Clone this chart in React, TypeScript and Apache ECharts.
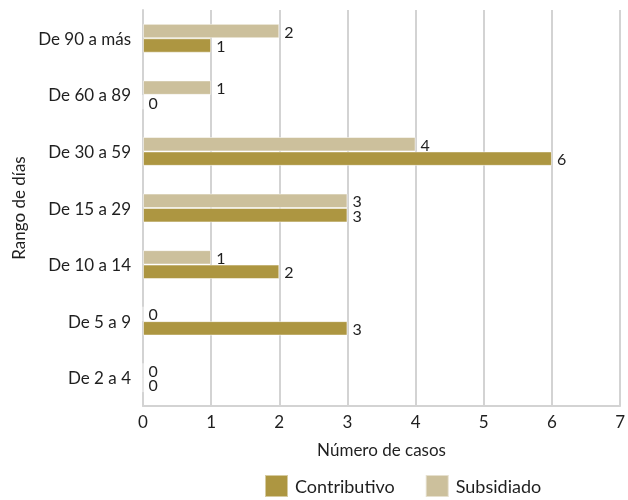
import React, { useEffect, useRef } from "react";
import * as echarts from "echarts";

// Day ranges, bottom to top on the category axis
const categories = [
  "De 2 a 4",
  "De 5 a 9",
  "De 10 a 14",
  "De 15 a 29",
  "De 30 a 59",
  "De 60 a 89",
  "De 90 a más",
];

const contributivo = [0, 3, 2, 3, 6, 0, 1];
const subsidiado = [0, 0, 1, 3, 4, 1, 2];

const xTicks = { min: 0, max: 7, interval: 1 };

const FONT = "Lato";
const TEXT = "#1f1f1f";
const GRID = "#d3d3d3";

export default function App() {
  const ref = useRef<HTMLDivElement>(null);

  useEffect(() => {
    if (!ref.current) return;
    const chart = echarts.init(ref.current, undefined, { renderer: "svg" });
    const label = {
      show: true,
      position: "right" as const,
      distance: 5,
      color: TEXT,
      fontFamily: FONT,
      fontSize: 16,
    };
    chart.setOption({
      animation: false,
      textStyle: { fontFamily: FONT },
      grid: { left: 143, right: 5, top: 10, bottom: 94 },
      legend: {
        bottom: 2,
        left: 264,
        padding: 0,
        itemWidth: 23,
        itemHeight: 22,
        itemGap: 30,
        icon: "rect",
        textStyle: { fontFamily: FONT, fontSize: 18, color: TEXT, padding: [0, 0, 0, 2] },
        data: ["Contributivo", "Subsidiado"],
      },
      xAxis: {
        type: "value",
        min: xTicks.min,
        max: xTicks.max,
        interval: xTicks.interval,
        name: "Número de casos",
        nameLocation: "middle",
        nameGap: 35,
        nameTextStyle: { fontFamily: FONT, fontSize: 17, color: TEXT },
        axisLine: { show: true, lineStyle: { color: GRID, width: 2 } },
        axisTick: { show: false },
        axisLabel: { color: TEXT, fontFamily: FONT, fontSize: 17, margin: 7 },
        splitLine: { show: true, lineStyle: { color: GRID, width: 2 } },
      },
      yAxis: {
        type: "category",
        data: categories,
        name: "Rango de días",
        nameLocation: "middle",
        nameGap: 114,
        nameRotate: 90,
        nameTextStyle: { fontFamily: FONT, fontSize: 17, color: TEXT },
        axisLine: { show: true, lineStyle: { color: GRID, width: 2 } },
        axisTick: { show: false },
        axisLabel: { color: TEXT, fontFamily: FONT, fontSize: 17, margin: 12 },
      },
      // Subsidiado is listed first so its bar sits above Contributivo in each band
      series: [
        {
          name: "Subsidiado",
          type: "bar",
          data: subsidiado,
          barGap: "0%",
          barCategoryGap: "49%",
          itemStyle: { color: "#ccc09c", borderColor: "rgba(255,255,255,0.5)", borderWidth: 1 },
          label,
        },
        {
          name: "Contributivo",
          type: "bar",
          data: contributivo,
          barGap: "0%",
          barCategoryGap: "49%",
          itemStyle: { color: "#ad9641", borderColor: "rgba(255,255,255,0.5)", borderWidth: 1 },
          label,
        },
      ],
    });
    return () => chart.dispose();
  }, []);

  return (
    <div
      ref={ref}
      style={{ position: "fixed", left: 0, top: 0, width: 628, height: 500 }}
    />
  );
}
